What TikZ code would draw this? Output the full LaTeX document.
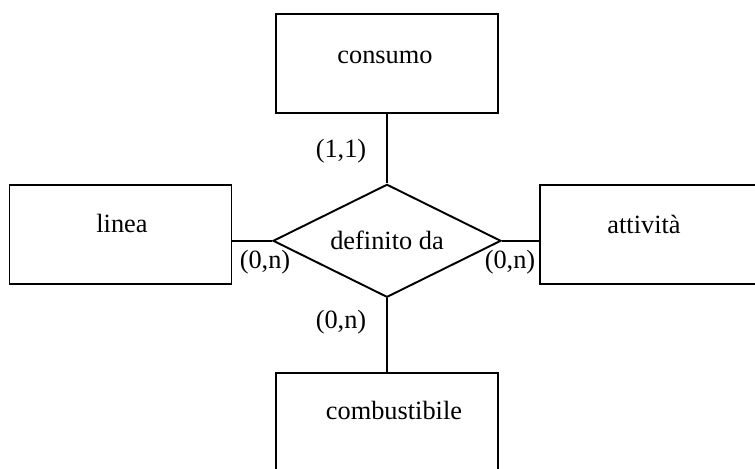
\documentclass[tikz,border=0pt]{standalone}
\usepackage{fontspec}
\setmainfont{Liberation Serif}
\usetikzlibrary{shapes.geometric,positioning}

\tikzset{
  entity/.style={draw,line width=1.1pt,minimum width=4.44cm,minimum height=1.98cm,inner sep=0pt},
  relation/.style={draw,diamond,line width=1.1pt,minimum width=4.56cm,minimum height=2.26cm,inner sep=0pt,shape aspect=2},
  etext/.style={anchor=base,inner sep=0pt},
  card/.style={anchor=base,inner sep=0pt}
}

\begin{document}
\begin{tikzpicture}[x=0.02cm,y=-0.02cm,font=\fontsize{15}{18}\selectfont]
    \useasboundingbox (0,0) rectangle (755,468);
    % entities
    \node (consumo) at (387,63.5) [entity]{};
    \node (linea) at (120.5,234.5) [entity]{};
    \node (attivita) at (651,234.5) [entity]{};
    \node (combustibile) at (387,422.5) [entity]{};
    % entity names
    \node (tconsumo) at (385,63) [etext]{consumo};
    \node (tlinea) at (122,232) [etext]{linea};
    \node (tattivita) at (644,233) [etext]{attività};
    \node (tcombustibile) at (394,419) [etext]{combustibile};
    % relationship
    \node (rel) at (387,240.8) [relation]{definito da};
    % edges
    \draw[line width=1.1pt] (consumo) -- (rel);
    \draw[line width=1.1pt] (linea.east |- rel.west) -- (rel.west);
    \draw[line width=1.1pt] (rel.east) -- (rel.east -| attivita.west);
    \draw[line width=1.1pt] (rel) -- (combustibile);
    % cardinalities
    \node (c1) at (341,157) [card]{(1,1)};
    \node (c2) at (265,268) [card]{(0,n)};
    \node (c3) at (510,268) [card]{(0,n)};
    \node (c4) at (341,328) [card]{(0,n)};
\end{tikzpicture}
\end{document}
